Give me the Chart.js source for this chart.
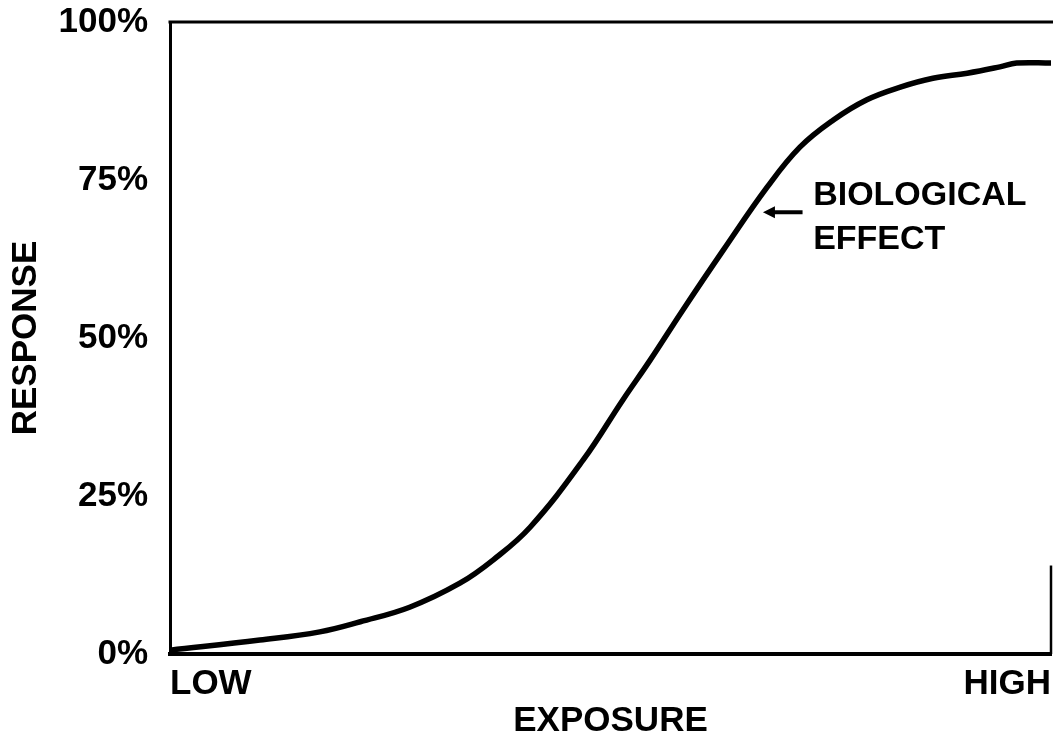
<!DOCTYPE html>
<html lang="en">
<head>
    <meta charset="UTF-8">
    <title>Response vs Exposure</title>
    <script src="https://cdn.jsdelivr.net/npm/chart.js"></script>
    <style>
        body {
            margin: 0;
            background-color: #fff;
        }
        canvas {
            display: block;
        }
    </style>
</head>
<body>
    <canvas id="myChart" width="1053" height="742"></canvas>

    <script>
        // Dados (exposição 0-100, resposta em %)
        const exposure = [0, 10.2, 17.0, 21.6, 27.2, 32.9, 36.7, 40.9, 46.9, 51.4, 54.5, 58.2, 62.8, 67.8, 71.5, 75.3, 79.1, 82.9, 86.6, 90.5, 94.2, 96.1, 100];
        const response = [0.6, 2.2, 3.5, 5.1, 7.4, 11.2, 14.9, 20.1, 30.7, 40.2, 46.5, 54.4, 63.9, 73.9, 80.2, 84.5, 87.7, 89.7, 91.1, 91.9, 92.9, 93.5, 93.5];
        const yTicks = [0, 25, 50, 75, 100];
        const xTickValues = [0, 100];
        const xTickLabels = ['LOW', 'HIGH'];
        const noteLines = ['BIOLOGICAL', 'EFFECT'];
        const noteAnchor = { x: 73.0, y: 71.0, y2: 64.1 };
        const arrow = { x1: 71.8, x2: 67.3, y: 69.9 };

        const FONT = 'bold 34px "Liberation Sans", Arial, Helvetica, sans-serif';
        const fontOpt = { family: '"Liberation Sans", Arial, Helvetica, sans-serif', size: 35, weight: 'bold' };

        const points = exposure.map((x, i) => ({ x: x, y: response[i] }));

        // moldura superior/direita e anotação
        const framePlugin = {
            id: 'frame',
            afterDraw(chart) {
                const { ctx, chartArea: a, scales } = chart;
                ctx.save();
                ctx.strokeStyle = '#000';
                ctx.lineWidth = 3;
                ctx.beginPath();
                ctx.moveTo(a.left - 1.5, a.top);
                ctx.lineTo(a.right + 2, a.top);
                ctx.stroke();
                ctx.lineWidth = 2.5;
                ctx.beginPath();
                ctx.moveTo(a.right, scales.y.getPixelForValue(14));
                ctx.lineTo(a.right, a.bottom);
                ctx.stroke();

                // seta
                const x1 = scales.x.getPixelForValue(arrow.x1);
                const x2 = scales.x.getPixelForValue(arrow.x2);
                const ay = scales.y.getPixelForValue(arrow.y);
                ctx.lineWidth = 4;
                ctx.beginPath();
                ctx.moveTo(x1, ay);
                ctx.lineTo(x2 + 8, ay);
                ctx.stroke();
                ctx.fillStyle = '#000';
                ctx.beginPath();
                ctx.moveTo(x2, ay);
                ctx.lineTo(x2 + 12, ay - 6);
                ctx.lineTo(x2 + 12, ay + 6);
                ctx.closePath();
                ctx.fill();

                ctx.font = FONT;
                ctx.textAlign = 'left';
                ctx.textBaseline = 'alphabetic';
                const tx = scales.x.getPixelForValue(noteAnchor.x);
                ctx.fillText(noteLines[0], tx, scales.y.getPixelForValue(noteAnchor.y));
                ctx.fillText(noteLines[1], tx, scales.y.getPixelForValue(noteAnchor.y2));
                ctx.restore();
            }
        };

        const myChart = new Chart(document.getElementById('myChart').getContext('2d'), {
            type: 'line',
            data: {
                datasets: [{
                    data: points,
                    borderColor: '#000',
                    borderWidth: 5.5,
                    pointRadius: 0,
                    tension: 0.4,
                    fill: false
                }]
            },
            options: {
                responsive: false,
                animation: false,
                layout: { padding: { top: 22, right: 2, left: 0, bottom: 0 } },
                plugins: {
                    legend: { display: false },
                    tooltip: { enabled: false }
                },
                scales: {
                    x: {
                        type: 'linear',
                        min: 0,
                        max: 100,
                        grid: { display: false, drawTicks: false },
                        border: { display: true, color: '#000', width: 4 },
                        afterBuildTicks: (scale) => { scale.ticks = xTickValues.map(v => ({ value: v })); },
                        afterFit: (scale) => {
                            scale.height = 88;
                            scale.paddingLeft = 0;
                            scale.paddingRight = 0;
                        },
                        ticks: {
                            color: '#000',
                            font: fontOpt,
                            padding: 9,
                            align: 'inner',
                            maxRotation: 0,
                            callback: (v) => xTickLabels[xTickValues.indexOf(v)]
                        },
                        title: {
                            display: true,
                            text: 'EXPOSURE',
                            color: '#000',
                            font: fontOpt,
                            padding: { top: 0, bottom: 0 }
                        }
                    },
                    y: {
                        min: 0,
                        max: 100,
                        grid: { display: false, drawTicks: false },
                        border: { display: true, color: '#000', width: 3 },
                        afterBuildTicks: (scale) => { scale.ticks = yTicks.map(v => ({ value: v })); },
                        afterFit: (scale) => {
                            scale.width = 170;
                            scale.paddingTop = 0;
                            scale.paddingBottom = 0;
                        },
                        ticks: {
                            color: '#000',
                            font: fontOpt,
                            padding: 22,
                            callback: (v) => v + '%'
                        },
                        title: {
                            display: true,
                            text: 'RESPONSE',
                            color: '#000',
                            font: fontOpt,
                            padding: { top: 5, bottom: 0 }
                        }
                    }
                }
            },
            plugins: [framePlugin]
        });
    </script>
</body>
</html>
